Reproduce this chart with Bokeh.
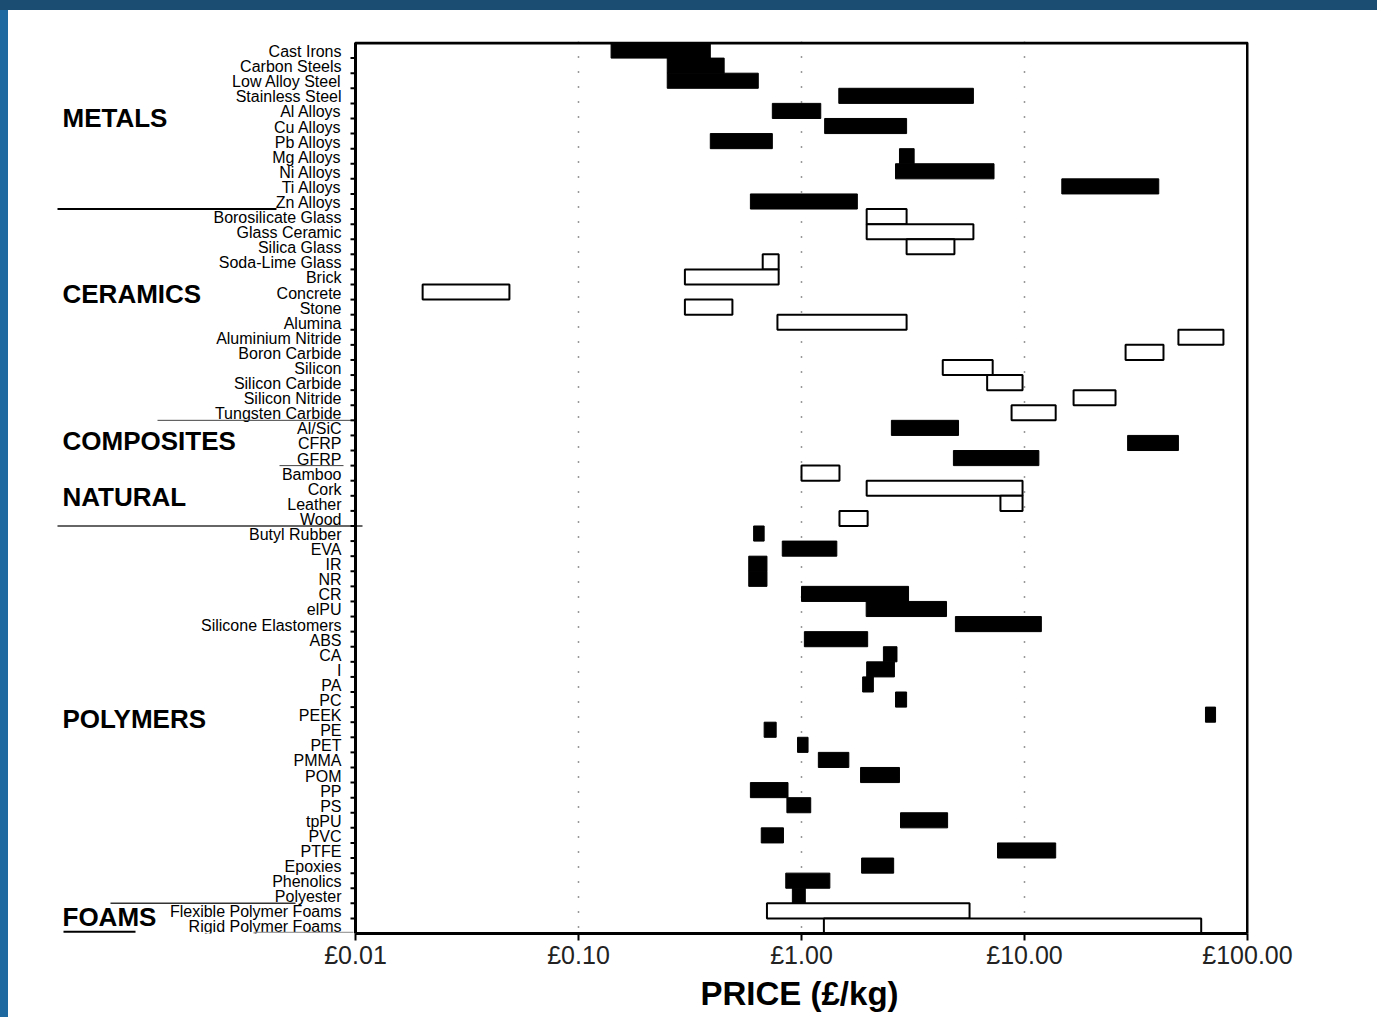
from bokeh.plotting import figure
from bokeh.layouts import row, column
from bokeh.models import (Range1d, FixedTicker, PrintfTickFormatter, ColumnDataSource, Div)
from bokeh.core.properties import value
from bokeh.embed import file_html
from bokeh.resources import INLINE

# ---------------- data ----------------
materials = [
    "Cast Irons", "Carbon Steels", "Low Alloy Steel", "Stainless Steel", "Al Alloys",
    "Cu Alloys", "Pb Alloys", "Mg Alloys", "Ni Alloys", "Ti Alloys", "Zn Alloys",
    "Borosilicate Glass", "Glass Ceramic", "Silica Glass", "Soda-Lime Glass", "Brick",
    "Concrete", "Stone", "Alumina", "Aluminium Nitride", "Boron Carbide", "Silicon",
    "Silicon Carbide", "Silicon Nitride", "Tungsten Carbide",
    "Al/SiC", "CFRP", "GFRP",
    "Bamboo", "Cork", "Leather", "Wood",
    "Butyl Rubber", "EVA", "IR", "NR", "CR", "elPU", "Silicone Elastomers", "ABS", "CA",
    "I", "PA", "PC", "PEEK", "PE", "PET", "PMMA", "POM", "PP", "PS", "tpPU", "PVC",
    "PTFE", "Epoxies", "Phenolics", "Polyester",
    "Flexible Polymer Foams", "Rigid Polymer Foams",
]
group_names = ["METALS", "CERAMICS", "COMPOSITES", "NATURAL", "POLYMERS", "FOAMS"]
group_sizes = [11, 14, 3, 4, 25, 2]

price_low = [
    0.14, 0.25, 0.25, 1.47, 0.74, 1.27, 0.39, 2.75, 2.64, 14.7, 0.59,
    1.96, 1.96, 2.96, 0.67, 0.30, 0.020, 0.30, 0.78, 49.0, 28.4, 4.3, 6.8, 16.6, 8.75,
    2.53, 29.0, 4.8,
    1.0, 1.96, 7.8, 1.48,
    0.61, 0.82, 0.58, 0.58, 1.0, 1.95, 4.9, 1.03, 2.33, 1.96, 1.88, 2.64, 64.8, 0.68,
    0.96, 1.19, 1.84, 0.59, 0.86, 2.78, 0.66, 7.57, 1.86, 0.85, 0.91,
    0.70, 1.26,
]
price_high = [
    0.39, 0.45, 0.64, 5.9, 1.22, 2.96, 0.74, 3.2, 7.3, 40.0, 1.78,
    2.96, 5.9, 4.85, 0.79, 0.79, 0.049, 0.49, 2.96, 78.0, 42.0, 7.2, 9.8, 25.6, 13.8,
    5.06, 49.0, 11.6,
    1.48, 9.8, 9.8, 1.98,
    0.68, 1.44, 0.70, 0.70, 3.02, 4.47, 11.9, 1.98, 2.68, 2.61, 2.10, 2.96, 71.9, 0.77,
    1.07, 1.63, 2.75, 0.87, 1.10, 4.52, 0.83, 13.8, 2.59, 1.34, 1.04,
    5.67, 62.0,
]
x_ticks = [0.01, 0.1, 1, 10, 100]
x_label = "PRICE (£/kg)"

# ---------------- styling ----------------
FONT = "Liberation Sans"
GROUP_FILL = {"METALS": "black", "CERAMICS": "white", "COMPOSITES": "black",
              "NATURAL": "white", "POLYMERS": "black", "FOAMS": "white"}
# vertical position (in rows) of each group heading
GROUP_LABEL_ROW = {"METALS": 4.5, "CERAMICS": 16.1, "COMPOSITES": 25.9,
                   "NATURAL": 29.6, "POLYMERS": 44.3, "FOAMS": 57.4}
# separator lines in the label area: (row boundary, px from, px to, width, colour)
SEPARATORS = [(10.5, 57, 276, 2, "black"), (24.5, 157, 353, 1, "#444444"),
              (27.5, 279, 343, 1, "#444444"), (31.5, 57, 362, 1.5, "#333333"),
              (56.5, 110, 295, 1.5, "#333333"), (58.38, 63, 135, 2, "black"),
              (58.42, 253, 353, 1, "#888888")]
TOP_BLUE, LEFT_BLUE = "#1b4d72", "#1e6aa0"
# page-pixel geometry of the price axis (£0.01 at x=355, one decade = 223 px)
AXIS_PX0, DECADE_PX = 355.0, 223.0
CANVAS_X0, FRAME_X1 = 8, 1248


def px_to_price(px):
    """horizontal page position -> price on the log scale (for label placement)"""
    return 10 ** ((px - AXIS_PX0) / DECADE_PX - 2)


# ---------------- build ----------------
groups = []
for g, k in zip(group_names, group_sizes):
    groups += [g] * k
n = len(materials)
rows = list(range(n))
fills = [GROUP_FILL[g] for g in groups]
lws = [1 if f == "black" else 2 for f in fills]
src = ColumnDataSource(dict(row=rows, lo=price_low, hi=price_high, fill=fills, lw=lws))

H = 1007
p = figure(width=1369, height=H, x_axis_type="log",
           x_range=Range1d(px_to_price(CANVAS_X0), px_to_price(FRAME_X1)),
           y_range=Range1d(n - 0.5, -0.6), y_axis_location=None,
           title=x_label, title_location="below",
           output_backend="svg", toolbar_location=None,
           min_border_left=0, min_border_right=1377 - FRAME_X1,
           min_border_top=31, min_border_bottom=84)
p.background_fill_color = "white"
p.border_fill_color = "white"
p.outline_line_color = None

# category names, group headings, separators and y ticks
label_x = px_to_price(341)
p.text(x=[label_x] * n, y=rows, text=materials, text_align="right",
       text_baseline="middle", text_font=value(FONT), text_font_size="16px",
       text_color="black", y_offset=1)
p.text(x=[px_to_price(62)] * len(group_names),
       y=[GROUP_LABEL_ROW[g] for g in group_names],
       text=group_names, text_align="left", text_baseline="middle",
       text_font=value(FONT), text_font_style="bold", text_font_size="26px",
       text_color="black")
for b, x0, x1, w, c in SEPARATORS:
    p.segment(x0=[px_to_price(x0)], y0=[b], x1=[px_to_price(x1)], y1=[b],
              line_color=c, line_width=w)
bounds = [r + 0.5 for r in rows[:-1]]
p.segment(x0=[px_to_price(350)] * len(bounds), y0=bounds,
          x1=[x_ticks[0]] * len(bounds), y1=bounds, line_color="black", line_width=2)

# dotted decade grid
p.ygrid.visible = False
p.xgrid.ticker = FixedTicker(ticks=x_ticks[1:-1])
p.xgrid.grid_line_color = "black"
p.xgrid.grid_line_dash = "1 14"
p.xgrid.grid_line_width = 1.5
p.xgrid.grid_line_alpha = 0.8

# price bars
p.hbar(y="row", left="lo", right="hi", height=1.0, fill_color="fill",
       line_color="black", line_width="lw", source=src)

# plot box
p.quad(left=[x_ticks[0]], right=[x_ticks[-1]], top=[-0.5], bottom=[n - 0.5],
       fill_color=None, line_color="black", line_width=3)

# x axis
xa = p.xaxis[0]
xa.bounds = (x_ticks[0], x_ticks[-1])
xa.ticker = FixedTicker(ticks=x_ticks, minor_ticks=[])
xa.formatter = PrintfTickFormatter(format="£%.2f")
xa.major_label_text_font = FONT
xa.major_label_text_font_size = "25px"
xa.major_label_text_color = "#222222"
xa.major_label_standoff = 0
xa.major_tick_out = 7
xa.major_tick_in = 0
xa.major_tick_line_width = 2
xa.axis_line_width = 3

# x axis title, placed under the price axis
p.title.align = "left"
p.title.offset = 700 - CANVAS_X0
p.title.standoff = 2
p.title.text_font = FONT
p.title.text_font_style = "bold"
p.title.text_font_size = "33px"
p.title.text_color = "black"

# ---- page frame (blue border of the original slide) ----
top_band = Div(width=1377, height=10, margin=(0, 0, 0, 0),
               styles={"background-color": TOP_BLUE})
left_band = Div(width=8, height=H, margin=(0, 0, 0, 0),
                styles={"background-color": LEFT_BLUE})
layout = column(top_band, row(left_band, p, spacing=0), spacing=0)

open("out.html", "w").write(file_html(layout, INLINE))
